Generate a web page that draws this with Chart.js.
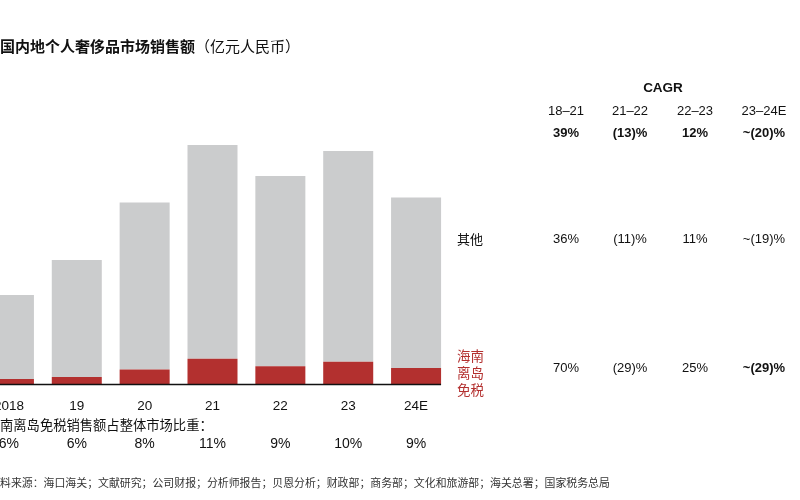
<!DOCTYPE html>
<html>
<head>
<meta charset="utf-8">
<script src="https://cdn.jsdelivr.net/npm/chart.js@4.4.1/dist/chart.umd.min.js"></script>
<style>
  body { margin:0; width:800px; height:500px; overflow:hidden; background:#fff;
         font-family:"Liberation Sans", Arial, "Noto Sans CJK SC", sans-serif; color:#111; }
  #wrap { position:absolute; left:-25px; top:0; width:825px; height:500px; }
  .t { position:absolute; white-space:nowrap; transform:translate(-50%,-50%); font-size:13px; }
  .l { position:absolute; white-space:nowrap; transform:translate(0,-50%); }
  .b { font-weight:bold; }
  .red { color:#b3302f; }
</style>
</head>
<body>
<div id="wrap"><canvas id="grafico" width="825" height="500"></canvas></div>

<div class="l" style="left:0;top:45px;font-size:15px;font-family:'Noto Sans CJK SC',sans-serif;"><b>国内地个人奢侈品市场销售额</b>（亿元人民币）</div>
<div class="l" style="left:0;top:424px;font-size:13.3px;font-family:'Noto Sans CJK SC',sans-serif;">南离岛免税销售额占整体市场比重：</div>
<div class="l" style="left:0;top:482px;font-size:10.9px;color:#333;font-family:'Noto Sans CJK SC',sans-serif;">料来源：海口海关；文献研究；公司财报；分析师报告；贝恩分析；财政部；商务部；文化和旅游部；海关总署；国家税务总局</div>

<div id="tabla"></div>

<script>
// datos (亿元人民币)
var years = ["2018","19","20","21","22","23","24E"]
var hainan = [100,140,290,505,355,445,318]
var otros = [1680,2340,3340,4275,3805,4215,3410]
var shares = ["6%","6%","8%","11%","9%","10%","9%"]

var periods = ["18–21","21–22","22–23","23–24E"]
var cagrTotal = ["39%","(13)%","12%","~(20)%"]
var cagrOtros = ["36%","(11)%","11%","~(19)%"]
var cagrHainan = ["70%","(29)%","25%","~(29)%"]

// tabla CAGR a la derecha
function crearTabla(){
    var cols = [566,630,695,764]
    var html = '<div class="t b" style="left:663px;top:87px;font-size:13.5px">CAGR</div>'
    for (var i = 0; i < periods.length; i++){
        html += '<div class="t" style="left:'+cols[i]+'px;top:110px">'+periods[i]+'</div>'
        html += '<div class="t b" style="left:'+cols[i]+'px;top:132px">'+cagrTotal[i]+'</div>'
        html += '<div class="t" style="left:'+cols[i]+'px;top:238px">'+cagrOtros[i]+'</div>'
        html += '<div class="t'+(i==3?' b':'')+'" style="left:'+cols[i]+'px;top:367px">'+cagrHainan[i]+'</div>'
    }
    html += '<div class="l" style="left:457px;top:238px;font-size:13px;font-family:\'Noto Sans CJK SC\'">其他</div>'
    html += '<div class="l red" style="left:457px;top:372px;font-size:13.5px;line-height:17px;font-family:\'Noto Sans CJK SC\'">海南<br>离岛<br>免税</div>'
    document.getElementById("tabla").innerHTML = html
}

var extras = {
    id: 'extras',
    afterDraw: function(chart){
        var ctx = chart.ctx
        var x = chart.scales.x
        var area = chart.chartArea
        var bars = chart.getDatasetMeta(1).data
        var last = bars[bars.length-1]
        ctx.save()
        // linea base
        ctx.strokeStyle = '#111'
        ctx.lineWidth = 1.5
        ctx.beginPath()
        ctx.moveTo(area.left, area.bottom + 0.5)
        ctx.lineTo(last.x + last.width/2, area.bottom + 0.5)
        ctx.stroke()
        // fila de porcentajes
        ctx.fillStyle = '#111'
        ctx.font = '14px "Liberation Sans", Arial'
        ctx.textAlign = 'center'
        ctx.textBaseline = 'middle'
        for (var i = 0; i < shares.length; i++){
            ctx.fillText(shares[i], x.getPixelForValue(i), 444)
        }
        ctx.restore()
    }
}

function crearGrafico(){
    var g = document.getElementById("grafico").getContext('2d')
    new Chart(g,{
        type: 'bar',
        data: {
            labels: years,
            datasets:[
            {
                label: "海南离岛免税",
                data: hainan,
                backgroundColor: '#b3302f',
            },
            {
                label: "其他",
                data: otros,
                backgroundColor: '#cbcccd',
            }
            ]
        },
        options: {
            responsive: false,
            maintainAspectRatio: false,
            animation: false,
            layout: { padding: { left: 0, right: 350, top: 134, bottom: 90 } },
            datasets: { bar: { barPercentage: 0.737, categoryPercentage: 1 } },
            plugins: { legend: { display: false }, tooltip: { enabled: false } },
            scales: {
                x: {
                    stacked: true,
                    grid: { display: false },
                    border: { display: false },
                    ticks: { color: '#111', font: { size: 13.5, family: '"Liberation Sans", Arial' }, padding: 6, maxRotation: 0 },
                    afterFit: function(s){ s.height = 26 }
                },
                y: { stacked: true, display: false, min: 0, max: 5000 }
            }
        },
        plugins: [extras]
    })
}

crearTabla()
document.addEventListener('DOMContentLoaded', crearGrafico)
</script>
</body>
</html>
